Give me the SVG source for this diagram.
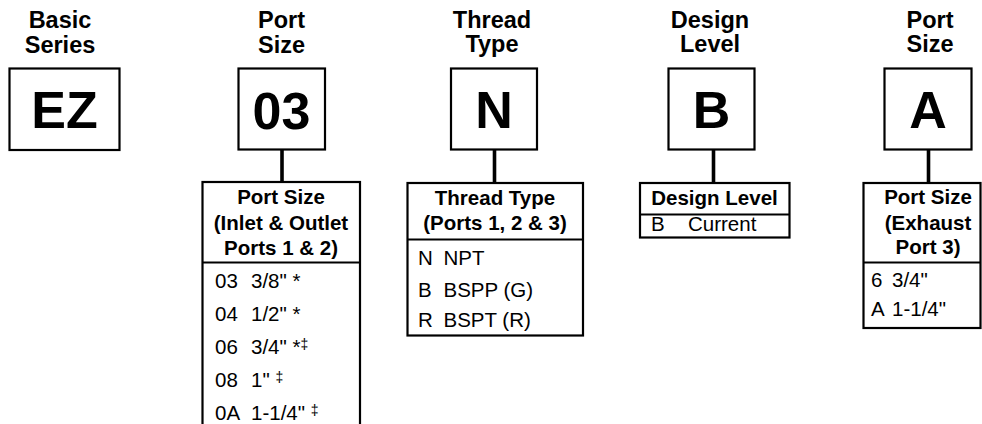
<svg xmlns="http://www.w3.org/2000/svg" width="982" height="424" viewBox="0 0 982 424">
<style>
  .lbl{font-family:"Liberation Sans",Arial,sans-serif;font-weight:bold;font-size:23.5px;text-anchor:middle;fill:#000}
  .big{font-family:"Liberation Sans",Arial,sans-serif;font-weight:bold;font-size:52px;text-anchor:middle;fill:#000}
  .hdr{font-family:"Liberation Sans",Arial,sans-serif;font-weight:bold;font-size:20.5px;text-anchor:middle;fill:#000}
  .row{font-family:"Liberation Sans",Arial,sans-serif;font-size:20.5px;fill:#000}
  .sup{font-size:14px}
  .box{fill:#fff;stroke:#000;stroke-width:2.2}
  .div{stroke:#000;stroke-width:2}
  .con{stroke:#000;stroke-width:3.6;fill:none}
</style>
<rect width="982" height="424" fill="#fff"/>
<g id="connectors">
  <line class="con" x1="282" y1="149" x2="282" y2="182"/>
  <line class="con" x1="494.5" y1="149" x2="494.5" y2="183"/>
  <line class="con" x1="713.5" y1="149" x2="713.5" y2="183"/>
  <line class="con" x1="928.5" y1="149" x2="928.5" y2="183"/>
</g>
<g id="basic-series">
  <text class="lbl" x="60" y="28">Basic</text>
  <text class="lbl" x="60" y="52.5">Series</text>
  <rect class="box" x="9.5" y="68.5" width="110" height="81.5"/>
  <text class="big" x="64.5" y="128">EZ</text>
</g>
<g id="port-size">
  <text class="lbl" x="281.5" y="28">Port</text>
  <text class="lbl" x="281.5" y="52.5">Size</text>
  <rect class="box" x="238.5" y="68.5" width="86.5" height="81"/>
  <text class="big" x="281.5" y="128.5">03</text>
</g>
<g id="port-size-table">
  <rect class="box" x="202.5" y="182" width="157.5" height="260"/>
  <line class="div" x1="202.5" y1="262.5" x2="360" y2="262.5"/>
  <text class="hdr" x="281" y="204">Port Size</text>
  <text class="hdr" x="281" y="230">(Inlet &amp; Outlet</text>
  <text class="hdr" x="281" y="255">Ports 1 &amp; 2)</text>
  <text class="row" x="215" y="288">03</text><text class="row" x="251" y="288">3/8" *</text>
  <text class="row" x="215" y="321">04</text><text class="row" x="251" y="321">1/2" *</text>
  <text class="row" x="215" y="354">06</text><text class="row" x="251" y="354">3/4" *<tspan class="sup" dy="-5">‡</tspan></text>
  <text class="row" x="215" y="387">08</text><text class="row" x="251" y="387">1" <tspan class="sup" dy="-5">‡</tspan></text>
  <text class="row" x="215" y="420">0A</text><text class="row" x="251" y="420">1-1/4" <tspan class="sup" dy="-5">‡</tspan></text>
</g>
<g id="thread-type">
  <text class="lbl" x="492" y="28">Thread</text>
  <text class="lbl" x="492" y="52">Type</text>
  <rect class="box" x="451" y="68.5" width="86" height="81"/>
  <text class="big" x="494" y="127.5">N</text>
</g>
<g id="thread-type-table">
  <rect class="box" x="407.5" y="183" width="175.5" height="152.5"/>
  <line class="div" x1="407.5" y1="239.5" x2="583" y2="239.5"/>
  <text class="hdr" x="495" y="205">Thread Type</text>
  <text class="hdr" x="495" y="230">(Ports 1, 2 &amp; 3)</text>
  <text class="row" x="418" y="265">N</text><text class="row" x="443.5" y="265">NPT</text>
  <text class="row" x="418" y="296.5">B</text><text class="row" x="443.5" y="296.5">BSPP (G)</text>
  <text class="row" x="418" y="326.5">R</text><text class="row" x="443.5" y="326.5">BSPT (R)</text>
</g>
<g id="design-level">
  <text class="lbl" x="710" y="28">Design</text>
  <text class="lbl" x="710" y="52">Level</text>
  <rect class="box" x="668.5" y="68.5" width="86" height="81"/>
  <text class="big" x="711.5" y="127.5">B</text>
</g>
<g id="design-level-table">
  <rect class="box" x="640" y="183" width="149.5" height="54.5"/>
  <line class="div" x1="640" y1="214.5" x2="789.5" y2="214.5"/>
  <text class="hdr" x="714.5" y="205">Design Level</text>
  <text class="row" x="651" y="231">B</text><text class="row" x="688" y="231">Current</text>
</g>
<g id="exhaust-port-size">
  <text class="lbl" x="930" y="28">Port</text>
  <text class="lbl" x="930" y="52">Size</text>
  <rect class="box" x="884.5" y="68.5" width="87" height="81"/>
  <text class="big" x="928" y="128">A</text>
</g>
<g id="exhaust-port-size-table">
  <rect class="box" x="863.5" y="183" width="117" height="145"/>
  <line class="div" x1="863.5" y1="262.5" x2="981" y2="262.5"/>
  <text class="hdr" x="928" y="204">Port Size</text>
  <text class="hdr" x="928" y="229.5">(Exhaust</text>
  <text class="hdr" x="928" y="254">Port 3)</text>
  <text class="row" x="871" y="287">6</text><text class="row" x="892" y="287">3/4"</text>
  <text class="row" x="871" y="315.5">A</text><text class="row" x="892" y="315.5">1-1/4"</text>
</g>
</svg>
